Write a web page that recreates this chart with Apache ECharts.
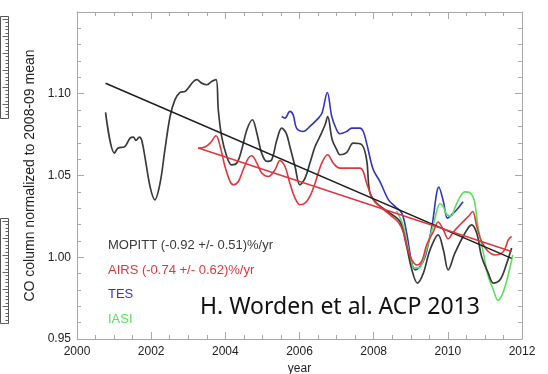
<!DOCTYPE html>
<html>
<head>
<meta charset="utf-8">
<script src="https://cdn.jsdelivr.net/npm/echarts@6/dist/echarts.min.js"></script>
<style>
  html, body { margin: 0; padding: 0; background: #fff; }
  #chart { width: 548px; height: 374px; }
</style>
</head>
<body>
<div id="chart"></div>
<script>
// Normalized CO column time series, [year, value]
const mopitt = [
  [2000.77,1.0886],[2001.01,1.0637],[2001.11,1.0668],[2001.29,1.0677],[2001.43,1.0729],
  [2001.52,1.0735],[2001.59,1.0714],[2001.68,1.0735],[2001.74,1.0718],[2001.83,1.0616],
  [2001.97,1.0432],[2002.10,1.0351],[2002.24,1.0453],[2002.37,1.0657],[2002.51,1.0861],
  [2002.64,1.0963],[2002.78,1.1008],[2002.91,1.1014],[2003.00,1.1035],[2003.14,1.1075],
  [2003.23,1.1086],[2003.36,1.1065],[2003.50,1.1055],[2003.63,1.1075],[2003.75,1.1086],
  [2003.81,1.0902],[2003.90,1.0739],[2004.04,1.0616],[2004.17,1.0565],[2004.31,1.0576],
  [2004.44,1.0657],[2004.58,1.0780],[2004.73,1.0841],[2004.85,1.0759],[2004.98,1.0637],
  [2005.12,1.0586],[2005.25,1.0596],[2005.39,1.0718],[2005.52,1.0790],[2005.64,1.0759],
  [2005.74,1.0677],[2005.88,1.0555],[2006.01,1.0443],[2006.15,1.0484],[2006.28,1.0576],
  [2006.42,1.0677],[2006.55,1.0739],[2006.69,1.0810],[2006.76,1.0861],[2006.88,1.0720],
  [2007.00,1.0660],[2007.09,1.0627],[2007.27,1.0640],[2007.45,1.0698],[2007.68,1.0688],
  [2007.81,1.0596],[2007.90,1.0392],[2008.08,1.0331],[2008.25,1.0300],[2008.44,1.0270],
  [2008.71,1.0218],[2008.89,1.0065],[2009.03,0.9923],[2009.18,0.9842],[2009.34,0.9903],
  [2009.52,1.0045],[2009.74,1.0137],[2009.88,1.0045],[2010.01,0.9923],[2010.19,1.0025],
  [2010.46,1.0147],[2010.64,1.0198],[2010.78,1.0147],[2010.91,1.0004],[2011.09,0.9903],
  [2011.23,0.9842],[2011.41,0.9862],[2011.59,0.9964],[2011.72,1.0056]
];
const airs = [
  [2003.27,1.0668],[2003.45,1.0674],[2003.59,1.0698],[2003.75,1.0743],[2003.86,1.0678],
  [2003.99,1.0555],[2004.13,1.0463],[2004.22,1.0443],[2004.35,1.0463],[2004.48,1.0535],
  [2004.62,1.0606],[2004.71,1.0621],[2004.85,1.0576],[2004.98,1.0515],[2005.16,1.0494],
  [2005.34,1.0535],[2005.47,1.0592],[2005.61,1.0555],[2005.74,1.0453],[2005.88,1.0362],
  [2006.01,1.0321],[2006.15,1.0331],[2006.28,1.0372],[2006.42,1.0453],[2006.60,1.0576],
  [2006.76,1.0627],[2006.91,1.0576],[2007.09,1.0545],[2007.36,1.0545],[2007.63,1.0545],
  [2007.72,1.0524],[2007.81,1.0453],[2007.99,1.0351],[2008.17,1.0310],[2008.44,1.0259],
  [2008.66,1.0216],[2008.80,1.0155],[2008.91,1.0057],[2009.03,0.9984],[2009.16,0.9953],
  [2009.30,0.9978],[2009.43,1.0076],[2009.61,1.0157],[2009.74,1.0216],[2009.88,1.0167],
  [2010.01,1.0113],[2010.15,1.0155],[2010.37,1.0208],[2010.55,1.0249],[2010.67,1.0280],
  [2010.78,1.0188],[2010.91,1.0096],[2011.09,1.0035],[2011.27,1.0014],[2011.50,1.0035],
  [2011.63,1.0106],[2011.72,1.0127]
];
const tes = [
  [2005.52,1.0861],[2005.61,1.0851],[2005.74,1.0892],[2005.83,1.0871],[2005.92,1.0790],
  [2006.10,1.0769],[2006.28,1.0800],[2006.51,1.0851],[2006.61,1.0884],[2006.75,1.1008],
  [2006.87,1.0861],[2007.00,1.0780],[2007.09,1.0755],[2007.27,1.0769],[2007.41,1.0790],
  [2007.63,1.0790],[2007.72,1.0769],[2007.81,1.0698],[2007.99,1.0535],[2008.17,1.0463],
  [2008.40,1.0351],[2008.58,1.0310],[2008.76,1.0270],[2008.89,1.0147],[2009.03,0.9964],
  [2009.12,0.9923],[2009.25,0.9943],[2009.39,1.0004],[2009.57,1.0188],[2009.76,1.0429],
  [2009.88,1.0341],[2009.99,1.0239],[2010.10,1.0260],[2010.24,1.0290],[2010.41,1.0339]
];
const iasi = [
  [2008.62,1.0284],[2008.79,1.0198],[2008.91,1.0076],[2009.01,0.9972],[2009.10,0.9935],
  [2009.22,0.9935],[2009.34,0.9984],[2009.47,1.0086],[2009.61,1.0198],[2009.71,1.0290],
  [2009.79,1.0327],[2009.88,1.0308],[2009.98,1.0259],[2010.09,1.0253],[2010.19,1.0302],
  [2010.33,1.0369],[2010.46,1.0400],[2010.60,1.0394],[2010.71,1.0351],[2010.82,1.0178],
  [2010.96,1.0025],[2011.09,0.9882],[2011.23,0.9800],[2011.35,0.9737],[2011.46,0.9768],
  [2011.57,0.9841],[2011.68,0.9941],[2011.75,1.0015]
];
// Linear trend fits (end points)
const mopittTrend = [[2000.77,1.1064],[2011.72,0.9993]];
const airsTrend = [[2003.27,1.0668],[2011.72,1.0035]];

// Annotation text
const legendLines = [
  'MOPITT (-0.92 +/- 0.51)%/yr',
  'AIRS (-0.74 +/- 0.62)%/yr',
  'TES',
  'IASI'
];
const citation = 'H. Worden et al. ACP 2013';
const yName = 'CO column normalized to 2008-09 mean';
const xName = 'year';

const C = { mopitt: '#3a3a3a', trend: '#1e1e1e', airs: '#e2363c', tes: '#3434c4', iasi: '#5ae05a' };
const frame = '#a8a8a8';
const labelFont = '"Liberation Sans", Arial, Helvetica, sans-serif';

function axisBase(extra) {
  return Object.assign({
    type: 'value',
    axisLine: { show: true, lineStyle: { color: frame, width: 1 } },
    axisTick: { show: true, inside: true, length: 7, lineStyle: { color: frame } },
    splitLine: { show: false },
    minorSplitLine: { show: false }
  }, extra);
}

// Side ruler drawn at the far left edge
const ruler = [];
[[16, 118], [218, 323]].forEach(([y0, y1]) => {
  ruler.push({ type: 'rect', shape: { x: 0.5, y: y0 + 0.5, width: 8, height: y1 - y0 },
    style: { fill: 'none', stroke: '#555', lineWidth: 1 } });
  let k = 0;
  for (let y = y0 + 3; y < y1; y += 3.4, k++) {
    const len = (k % 5 === 0) ? 6 : 3;
    ruler.push({ type: 'line', shape: { x1: 8.5 - len, y1: Math.round(y) + 0.5, x2: 8.5, y2: Math.round(y) + 0.5 },
      style: { stroke: '#666', lineWidth: 1 } });
  }
});

const legendColors = [C.mopitt, C.airs, C.tes, C.iasi];
const legendY = [246.7, 271.7, 295.5, 320];
const legendText = legendLines.map((t, i) => ({
  type: 'text', left: 108, top: legendY[i] - 7.5,
  style: { text: t, fill: legendColors[i], font: '13px ' + labelFont }
}));

const chart = echarts.init(document.getElementById('chart'), null, { renderer: 'canvas' });
chart.setOption({
  backgroundColor: '#fff',
  animation: false,
  grid: { left: 77, right: 26, top: 12, bottom: 35, outerBoundsMode: 'none', containLabel: false },
  xAxis: [
    axisBase({
      min: 2000, max: 2012, interval: 2, position: 'bottom',
      minorTick: { show: true, splitNumber: 4, length: 4, lineStyle: { color: frame } },
      axisLabel: { margin: 7, fontSize: 12, color: '#222', fontFamily: labelFont,
        formatter: v => String(Math.round(v)) },
      name: xName, nameLocation: 'middle', nameGap: 20,
      nameTextStyle: { fontSize: 12, color: '#222', fontFamily: labelFont }
    }),
    axisBase({
      min: 2000, max: 2012, interval: 2, position: 'top',
      minorTick: { show: true, splitNumber: 4, length: 4, lineStyle: { color: frame } },
      axisLabel: { show: false }
    })
  ],
  yAxis: [
    axisBase({
      min: 0.95, max: 1.15, interval: 0.05, position: 'left',
      minorTick: { show: true, splitNumber: 5, length: 4, lineStyle: { color: frame } },
      axisLabel: { margin: 6, fontSize: 12, color: '#222', fontFamily: labelFont,
        formatter: v => (Math.abs(v - 1.15) < 1e-6 ? '' : v.toFixed(2)) },
      name: yName, nameLocation: 'middle', nameGap: 40, nameRotate: 90,
      nameTextStyle: { fontSize: 14, color: '#222', fontFamily: labelFont }
    }),
    axisBase({
      min: 0.95, max: 1.15, interval: 0.05, position: 'right',
      minorTick: { show: true, splitNumber: 5, length: 4, lineStyle: { color: frame } },
      axisLabel: { show: false }
    })
  ],
  series: [
    { type: 'line', data: tes, smooth: 0.35, showSymbol: false, lineStyle: { color: C.tes, width: 1.6 } },
    { type: 'line', data: iasi, smooth: 0.35, showSymbol: false, lineStyle: { color: C.iasi, width: 1.6 } },
    { type: 'line', data: mopitt, smooth: 0.35, showSymbol: false, lineStyle: { color: C.mopitt, width: 1.7 } },
    { type: 'line', data: airs, smooth: 0.35, showSymbol: false, lineStyle: { color: C.airs, width: 1.6 } },
    { type: 'line', data: mopittTrend, showSymbol: false, lineStyle: { color: C.trend, width: 1.5 } },
    { type: 'line', data: airsTrend, showSymbol: false, lineStyle: { color: C.airs, width: 1.5 } }
  ],
  graphic: ruler.concat(legendText).concat([
    { type: 'text', left: 200, top: 296,
      style: { text: citation, fill: '#111', font: '23px "Noto Sans", "Open Sans", sans-serif' } }
  ])
});
</script>
</body>
</html>
